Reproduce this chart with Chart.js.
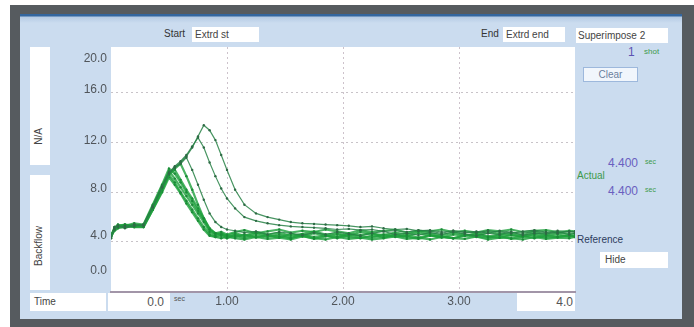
<!DOCTYPE html>
<html>
<head>
<meta charset="utf-8">
<script src="https://cdn.jsdelivr.net/npm/chart.js@4/dist/chart.umd.min.js"></script>
<style>
  html, body { margin:0; padding:0; background:#fff; width:694px; height:327px; overflow:hidden; }
  body { position:relative; font-family:"Liberation Sans", Arial, sans-serif; }
  .abs { position:absolute; }
  #frame { left:10px; top:5px; width:684px; height:322px; background:#565b5f; }
  #panel { left:20px; top:14px; width:662px; height:305px;
           background:linear-gradient(#33669f 0px, #33669f 2px, #b4cae4 3px, #cbdcef 9px, #cbdcef 100%); }
  .box { background:#fff; font-size:10px; color:#444; box-sizing:border-box; line-height:15px; white-space:nowrap; }
  .lbl { font-size:10px; color:#333; white-space:nowrap; line-height:12px; }
  .vt { writing-mode:vertical-rl; transform:rotate(180deg); font-size:10px; color:#444; }
  canvas { position:absolute; left:0; top:0; }
</style>
</head>
<body>
<div id="frame" class="abs"></div>
<div id="panel" class="abs"></div>

<!-- left side boxes -->
<div class="abs box" style="left:30px;top:47px;width:20px;height:118px;"></div>
<div class="abs vt" style="left:33px;top:128px;">N/A</div>
<div class="abs box" style="left:30px;top:175px;width:20px;height:115px;"></div>
<div class="abs vt" style="left:33px;top:226px;">Backflow</div>

<!-- top controls -->
<div class="abs lbl" style="left:164px;top:28px;">Start</div>
<div class="abs box" style="left:192px;top:27px;width:67px;height:15px;padding-left:3px;">Extrd st</div>
<div class="abs lbl" style="left:481px;top:28px;">End</div>
<div class="abs box" style="left:503px;top:27px;width:62px;height:15px;padding-left:3px;">Extrd end</div>
<div class="abs box" style="left:576px;top:28px;width:92px;height:15px;padding-left:2px;">Superimpose 2</div>

<div class="abs" style="left:628px;top:45px;font-size:12px;color:#5b52b2;">1</div>
<div class="abs" style="left:644px;top:47px;font-size:8px;color:#3d9a4c;">shot</div>
<div class="abs" style="left:583px;top:67px;width:55px;height:15px;background:#f1f6fc;border:1px solid #9db8dc;box-sizing:border-box;font-size:10px;color:#6b7f9e;text-align:center;line-height:13px;">Clear</div>

<div class="abs" style="left:598px;top:156px;width:40px;text-align:right;font-size:12px;color:#6a5fc0;">4.400</div>
<div class="abs" style="left:645px;top:158px;font-size:7px;color:#3d9a4c;">sec</div>
<div class="abs" style="left:577px;top:170px;font-size:10px;color:#3d9a4c;">Actual</div>
<div class="abs" style="left:598px;top:184px;width:40px;text-align:right;font-size:12px;color:#6a5fc0;">4.400</div>
<div class="abs" style="left:645px;top:186px;font-size:7px;color:#3d9a4c;">sec</div>

<div class="abs" style="left:577px;top:234px;font-size:10px;color:#2e3d5e;">Reference</div>
<div class="abs box" style="left:600px;top:252px;width:68px;height:16px;padding-left:5px;">Hide</div>

<!-- bottom row -->
<div class="abs box" style="left:30px;top:293px;width:76px;height:18px;padding-left:4px;line-height:17px;">Time</div>
<div class="abs box" style="left:108px;top:293px;width:62px;height:18px;padding-right:6px;text-align:right;font-size:12px;color:#555;line-height:18px;">0.0</div>
<div class="abs" style="left:174px;top:295px;font-size:7px;color:#555;">sec</div>
<div class="abs box" style="left:517px;top:293px;width:58px;height:18px;padding-right:2px;text-align:right;font-size:12px;color:#555;line-height:18px;">4.0</div>

<canvas id="c" width="694" height="327"></canvas>

<script>
// ---- data ----
const times = [0, 0.03, 0.06, 0.12, 0.2, 0.28, 0.36, 0.44, 0.5, 0.55, 0.6, 0.65, 0.7, 0.75, 0.8, 0.85, 0.9, 0.95, 1.0,
  1.07, 1.15, 1.25, 1.35, 1.45, 1.55, 1.65, 1.75, 1.85, 1.95, 2.05, 2.15, 2.25, 2.35, 2.45, 2.55, 2.65, 2.75, 2.85, 2.95,
  3.05, 3.15, 3.25, 3.35, 3.45, 3.55, 3.65, 3.75, 3.85, 3.95, 4.0];

const shot1 = [4.4, 5.0, 5.3, 5.2, 5.4, 5.3, 6.8, 8.4, 9.5, 10.0, 10.4, 10.9, 11.6, 12.5, 13.4, 13.0, 12.2, 11.0, 9.8,
  8.2, 7.0, 6.3, 6.0, 5.8, 5.6, 5.5, 5.45, 5.4, 5.35, 5.3, 5.2, 5.25, 5.1, 5.0, 5.05, 4.9, 4.95, 4.8, 4.9, 4.75, 4.85, 4.7, 4.9, 4.8, 4.7, 4.85, 4.75, 4.9, 4.8, 4.85];
const shot2 = [4.5, 5.1, 5.2, 5.3, 5.3, 5.4, 6.9, 8.5, 9.6, 10.1, 10.5, 11.0, 11.7, 12.4, 11.6, 10.4, 9.3, 8.3, 7.5,
  6.7, 6.0, 5.7, 5.5, 5.35, 5.25, 5.2, 5.15, 5.1, 5.0, 5.05, 4.95, 5.0, 4.85, 4.9, 4.8, 4.95, 4.85, 4.7, 4.9, 4.8, 4.75, 4.9, 4.8, 4.7, 4.85, 4.95, 4.8, 4.7, 4.85, 4.8];
const shot3 = [4.3, 5.2, 5.3, 5.1, 5.3, 5.4, 6.8, 8.4, 9.5, 10.0, 10.3, 10.8, 9.8, 8.6, 7.4, 6.3, 5.6, 5.2, 5.0,
  4.9, 4.75, 4.85, 4.6, 4.8, 4.7, 4.55, 4.75, 4.6, 4.8, 4.65, 4.5, 4.7, 4.85, 4.6, 4.7, 4.55, 4.75, 4.6, 4.8, 4.65, 4.5, 4.7, 4.6, 4.8, 4.55, 4.7, 4.65, 4.8, 4.6, 4.7];
const shot4 = [4.5, 5.0, 5.2, 5.3, 5.2, 5.3, 6.7, 8.3, 9.4, 9.9, 10.3, 9.3, 8.2, 7.0, 5.9, 5.0, 4.7, 4.6, 4.5,
  4.4, 4.6, 4.35, 4.55, 4.45, 4.3, 4.6, 4.4, 4.5, 4.3, 4.55, 4.45, 4.35, 4.6, 4.4, 4.5, 4.35, 4.55, 4.4, 4.3, 4.5, 4.6, 4.4, 4.35, 4.55, 4.45, 4.3, 4.5, 4.4, 4.55, 4.45];
const shot5 = [4.4, 5.1, 5.4, 5.2, 5.4, 5.3, 6.8, 8.3, 9.7, 9.1, 8.4, 7.7, 7.0, 6.3, 5.6, 4.8, 4.5, 4.6, 4.4,
  4.5, 4.3, 4.55, 4.4, 4.6, 4.35, 4.5, 4.25, 4.45, 4.6, 4.4, 4.3, 4.5, 4.35, 4.55, 4.4, 4.25, 4.5, 4.45, 4.3, 4.55, 4.4, 4.35, 4.5, 4.25, 4.45, 4.55, 4.35, 4.4, 4.5, 4.4];
const shot6 = [4.6, 5.0, 5.2, 5.4, 5.2, 5.2, 6.6, 8.1, 9.4, 8.8, 8.0, 7.3, 6.6, 5.9, 5.2, 4.6, 4.4, 4.5, 4.3,
  4.6, 4.4, 4.7, 4.5, 4.35, 4.65, 4.45, 4.7, 4.5, 4.4, 4.65, 4.55, 4.7, 4.4, 4.6, 4.45, 4.7, 4.55, 4.35, 4.6, 4.5, 4.7, 4.45, 4.6, 4.55, 4.4, 4.65, 4.5, 4.6, 4.45, 4.55];
const shot7 = [4.3, 5.2, 5.3, 5.3, 5.5, 5.4, 7.0, 8.6, 9.9, 9.5, 8.8, 8.0, 7.3, 6.5, 5.8, 5.0, 4.6, 4.7, 4.5,
  4.7, 4.5, 4.8, 4.6, 4.75, 4.5, 4.65, 4.85, 4.6, 4.7, 4.5, 4.8, 4.65, 4.55, 4.75, 4.6, 4.85, 4.7, 4.55, 4.75, 4.6, 4.5, 4.8, 4.65, 4.7, 4.55, 4.8, 4.6, 4.75, 4.65, 4.7];
const shot8 = [4.5, 4.9, 5.1, 5.2, 5.3, 5.2, 6.6, 8.0, 9.2, 8.6, 7.9, 7.1, 6.4, 5.7, 5.0, 4.5, 4.4, 4.3, 4.4,
  4.3, 4.2, 4.4, 4.25, 4.35, 4.2, 4.45, 4.3, 4.2, 4.4, 4.25, 4.35, 4.2, 4.3, 4.45, 4.25, 4.35, 4.2, 4.4, 4.3, 4.25, 4.45, 4.2, 4.35, 4.3, 4.2, 4.4, 4.25, 4.35, 4.3, 4.4];
const shot9 = [4.4, 5.1, 5.3, 5.4, 5.3, 5.3, 6.9, 8.5, 9.6, 9.8, 9.0, 8.2, 7.5, 6.7, 5.9, 5.1, 4.7, 4.8, 4.6,
  4.8, 4.95, 4.7, 4.85, 5.0, 4.75, 4.9, 4.8, 5.0, 4.85, 4.7, 4.95, 4.8, 4.9, 5.0, 4.75, 4.9, 4.85, 5.0, 4.8, 4.9, 4.75, 4.95, 4.85, 5.0, 4.8, 4.9, 4.95, 4.8, 4.9, 4.85];

const shots = [shot1, shot2, shot3, shot4, shot5, shot6, shot7, shot8, shot9];

const yLabelValues = [1.66, 4.52, 8.31, 12.15, 16.26, 18.76];
const yTickLabels = ['0.0', '4.0', '8.0', '12.0', '16.0', '20.0'];
const yGridValues = [4, 8, 12, 16];
const xTickValues = [1, 2, 3];
const xTickLabels = ['1.00', '2.00', '3.00'];

// ---- chart ----
const upper = [0, 1, 2];
const datasets = shots.map((vals, k) => ({
  data: vals.map((v, i) => ({ x: times[i], y: v })),
  borderColor: upper.includes(k) ? 'rgba(40,130,70,0.85)' : 'rgba(30,160,60,0.8)',
  borderWidth: upper.includes(k) ? 1.2 : 2.2,
  pointRadius: upper.includes(k) ? 1.2 : 1.2,
  pointBorderWidth: 0,
  pointBackgroundColor: upper.includes(k) ? '#2e6a45' : '#1b8a38',
  tension: 0,
  fill: false
}));

const plotBg = {
  id: 'plotBg',
  beforeDraw(chart) {
    const { ctx, chartArea: a } = chart;
    ctx.save();
    ctx.fillStyle = '#ffffff';
    ctx.fillRect(a.left, a.top, a.right - a.left, a.bottom - a.top);
    ctx.restore();
  }
};

const tickFont = { size: 12, family: '"Liberation Sans", Arial, sans-serif' };

new Chart(document.getElementById('c'), {
  type: 'line',
  data: { datasets },
  plugins: [plotBg],
  options: {
    responsive: false,
    animation: false,
    devicePixelRatio: 1,
    layout: { padding: { left: 0, top: 47, right: 119, bottom: 0 } },
    plugins: { legend: { display: false }, tooltip: { enabled: false } },
    scales: {
      x: {
        type: 'linear', min: 0, max: 4,
        afterBuildTicks: s => { s.ticks = xTickValues.map(v => ({ value: v })); },
        afterFit: s => { s.height = 35.4; },
        ticks: { callback: (v, i) => xTickLabels[i], color: '#50555a', font: tickFont, padding: 3, maxRotation: 0 },
        grid: { color: '#cdc2cb', lineWidth: 1, drawTicks: false },
        border: { display: true, color: '#a295a8', width: 2, dash: [2, 3] }
      },
      y: {
        type: 'linear', position: 'left', min: 0, max: 19.7,
        afterBuildTicks: s => { s.ticks = yLabelValues.map(v => ({ value: v })); },
        afterFit: s => { s.width = 111; },
        ticks: { callback: (v, i) => yTickLabels[i], color: '#50555a', font: tickFont, padding: 4 },
        grid: { display: false, drawTicks: false },
        border: { display: false }
      },
      yGrid: {
        type: 'linear', position: 'right', min: 0, max: 19.7,
        afterBuildTicks: s => { s.ticks = yGridValues.map(v => ({ value: v })); },
        afterFit: s => { s.width = 0; },
        ticks: { display: false },
        grid: { color: '#c8c3c8', lineWidth: 1, drawTicks: false },
        border: { display: false, dash: [2, 3] }
      }
    }
  }
});
</script>
</body>
</html>
